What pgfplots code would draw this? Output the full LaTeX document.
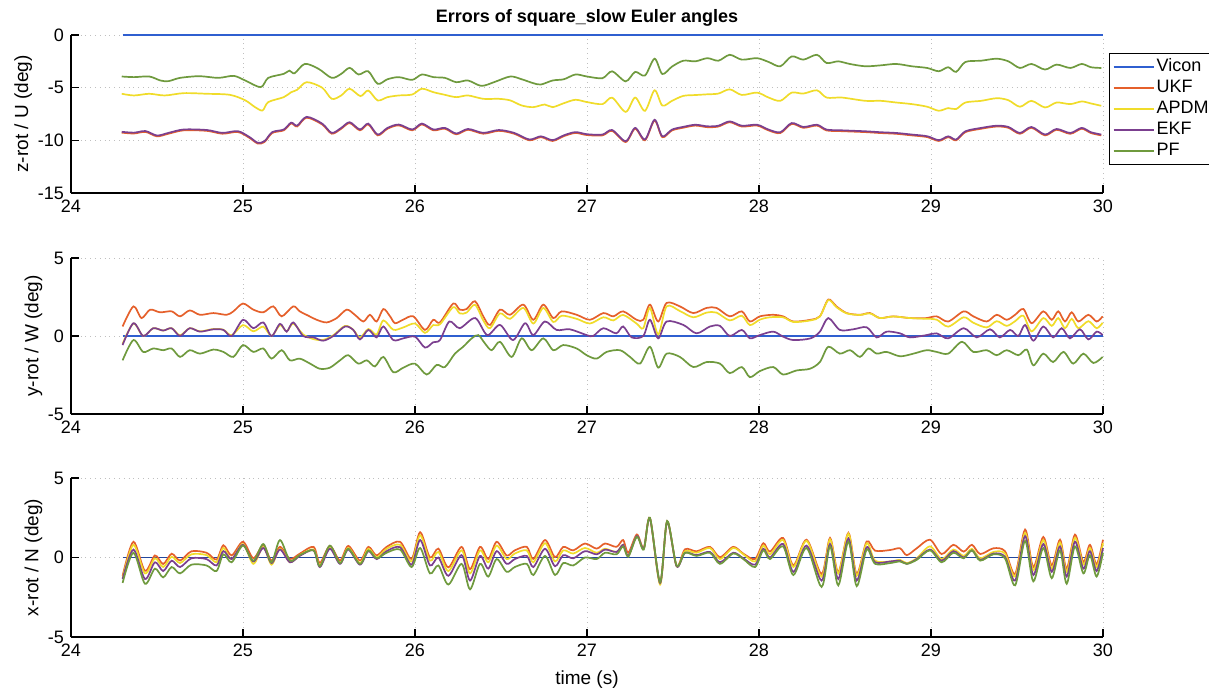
\documentclass[border=0pt]{standalone}
\usepackage{fontspec}
\setmainfont{Liberation Sans}
\usepackage{pgfplots}
\pgfplotsset{compat=1.18}
\definecolor{cVicon}{HTML}{2F5FD0}
\definecolor{cUKF}{HTML}{E5602B}
\definecolor{cAPDM}{HTML}{F0DC2A}
\definecolor{cEKF}{HTML}{7B3F8F}
\definecolor{cPF}{HTML}{6F9A3E}
\pgfplotsset{
 mystyle/.style={
  scale only axis, width=516pt,
  xmin=24, xmax=30, xtick={24,25,26,27,28,29,30}, xticklabels={24,25,26,27,28,29,30},
  axis x line*=bottom, axis y line*=left,
  axis line style={black, line width=0.6pt, -},
  tick style={black, line width=0.6pt},
  tick align=inside, major tick length=4pt,
  grid=major, grid style={dotted, gray!50, line width=0.4pt},
  tick label style={font=\fontsize{9}{10}\selectfont},
  label style={font=\fontsize{9.5}{11}\selectfont},
  ylabel style={yshift=-4pt},
  every axis plot/.append style={smooth, line width=0.85pt, mark=none},
  clip=false,
 }
}
\begin{document}
\begin{tikzpicture}
\useasboundingbox (0pt,0pt) rectangle (604.5pt,-348pt);
% ---------------- top -----------------
\begin{axis}[mystyle, at={(35.5pt,-17.5pt)}, anchor=north west, height=79pt,
  ymin=-15, ymax=0, ytick={-15,-10,-5,0}, yticklabels={-15,-10,-5,0},
  ylabel={z-rot / U (deg)},
  title={\bfseries Errors of square\_slow Euler angles},
  title style={font=\fontsize{9}{11}\selectfont\bfseries, yshift=-5pt},
  legend style={at={(1,1)}, anchor=north west, xshift=3pt, yshift=-9pt, draw=black, line width=0.6pt,
     font=\fontsize{9}{10}\selectfont, inner sep=1.5pt, row sep=0pt,
     nodes={inner sep=1pt, text height=6.6pt, text depth=1.9pt}},
  legend cell align=left,
  legend image code/.code={\draw[#1] (0pt,0pt) -- (20pt,0pt);},
]
\addplot[cVicon, line width=1pt] coordinates {(24.30,0) (30,0)};
\addplot[cUKF] coordinates {(24.295,-9.27) (24.366,-9.35) (24.433,-9.2) (24.50,-9.62) (24.567,-9.37) (24.656,-9.05) (24.79,-9.1) (24.88,-9.37) (24.97,-9.21) (25.036,-9.75) (25.085,-10.3) (25.125,-10.16) (25.17,-9.3) (25.237,-9.05) (25.28,-8.4) (25.315,-8.68) (25.37,-7.85) (25.46,-8.49) (25.516,-9.37) (25.571,-8.9) (25.62,-8.36) (25.68,-9.05) (25.728,-8.49) (25.783,-9.53) (25.84,-8.9) (25.906,-8.58) (25.984,-9.05) (26.04,-8.49) (26.107,-9.05) (26.174,-8.9) (26.24,-9.43) (26.308,-9.0) (26.397,-9.37) (26.487,-9.1) (26.576,-9.37) (26.665,-10.0) (26.732,-9.7) (26.80,-10.06) (26.866,-9.6) (26.933,-9.3) (27.0,-9.5) (27.09,-9.53) (27.146,-9.1) (27.225,-10.16) (27.28,-8.9) (27.337,-10.0) (27.393,-8.13) (27.438,-9.7) (27.494,-9.06) (27.56,-8.8) (27.63,-8.6) (27.70,-8.75) (27.764,-8.69) (27.83,-8.28) (27.90,-8.69) (27.989,-8.6) (28.056,-9.06) (28.124,-9.31) (28.19,-8.44) (28.258,-8.81) (28.337,-8.6) (28.393,-9.06) (28.483,-9.13) (28.618,-9.22) (28.708,-9.31) (28.798,-9.38) (28.888,-9.53) (28.978,-9.69) (29.045,-10.06) (29.10,-9.7) (29.146,-10.0) (29.20,-9.22) (29.292,-8.9) (29.382,-8.69) (29.45,-8.81) (29.517,-9.38) (29.584,-8.81) (29.663,-9.53) (29.73,-9.0) (29.81,-9.38) (29.876,-8.9) (29.93,-9.31) (29.99,-9.53)};
\addplot[cAPDM] coordinates {(24.295,-5.58) (24.366,-5.74) (24.455,-5.58) (24.545,-5.74) (24.656,-5.52) (24.79,-5.58) (24.924,-5.68) (25.013,-6.2) (25.07,-6.85) (25.114,-7.16) (25.147,-6.37) (25.237,-5.9) (25.28,-5.43) (25.315,-5.2) (25.37,-4.48) (25.46,-5.0) (25.516,-6.06) (25.571,-5.74) (25.62,-5.1) (25.683,-5.8) (25.728,-5.27) (25.783,-6.21) (25.84,-5.9) (25.906,-5.74) (25.984,-5.65) (26.04,-5.1) (26.107,-5.43) (26.174,-5.68) (26.24,-5.9) (26.308,-5.74) (26.397,-6.06) (26.487,-6.06) (26.554,-6.21) (26.62,-6.69) (26.687,-6.85) (26.754,-6.6) (26.80,-6.85) (26.866,-6.47) (26.933,-6.15) (27.0,-6.37) (27.09,-6.56) (27.146,-5.95) (27.225,-7.3) (27.28,-5.94) (27.337,-7.2) (27.393,-5.25) (27.438,-6.7) (27.494,-6.25) (27.56,-5.78) (27.63,-5.7) (27.70,-5.63) (27.764,-5.56) (27.83,-5.16) (27.90,-5.69) (27.989,-5.47) (28.056,-5.94) (28.124,-6.25) (28.19,-5.47) (28.258,-5.56) (28.337,-5.25) (28.393,-5.94) (28.483,-5.94) (28.618,-6.25) (28.708,-6.25) (28.798,-6.41) (28.888,-6.56) (28.978,-6.81) (29.045,-7.19) (29.10,-6.94) (29.146,-7.03) (29.20,-6.41) (29.292,-6.25) (29.382,-6.0) (29.45,-6.19) (29.517,-6.81) (29.584,-6.25) (29.663,-6.88) (29.73,-6.41) (29.81,-6.56) (29.876,-6.31) (29.93,-6.5) (29.99,-6.72)};
\addplot[cEKF] coordinates {(24.295,-9.19) (24.366,-9.27) (24.433,-9.12) (24.50,-9.54) (24.567,-9.29) (24.656,-8.97) (24.79,-9.02) (24.88,-9.29) (24.97,-9.13) (25.036,-9.67) (25.085,-10.22) (25.125,-10.08) (25.17,-9.22) (25.237,-8.97) (25.28,-8.32) (25.315,-8.6) (25.37,-7.77) (25.46,-8.41) (25.516,-9.29) (25.571,-8.82) (25.62,-8.28) (25.68,-8.97) (25.728,-8.41) (25.783,-9.45) (25.84,-8.82) (25.906,-8.5) (25.984,-8.97) (26.04,-8.41) (26.107,-8.97) (26.174,-8.82) (26.24,-9.35) (26.308,-8.92) (26.397,-9.29) (26.487,-9.02) (26.576,-9.29) (26.665,-9.92) (26.732,-9.62) (26.80,-9.98) (26.866,-9.52) (26.933,-9.22) (27.0,-9.42) (27.09,-9.45) (27.146,-9.02) (27.225,-10.08) (27.28,-8.82) (27.337,-9.92) (27.393,-8.05) (27.438,-9.62) (27.494,-8.98) (27.56,-8.72) (27.63,-8.52) (27.70,-8.67) (27.764,-8.61) (27.83,-8.2) (27.90,-8.61) (27.989,-8.52) (28.056,-8.98) (28.124,-9.23) (28.19,-8.36) (28.258,-8.73) (28.337,-8.52) (28.393,-8.98) (28.483,-9.05) (28.618,-9.14) (28.708,-9.23) (28.798,-9.3) (28.888,-9.45) (28.978,-9.61) (29.045,-9.98) (29.10,-9.62) (29.146,-9.92) (29.20,-9.14) (29.292,-8.82) (29.382,-8.61) (29.45,-8.73) (29.517,-9.3) (29.584,-8.73) (29.663,-9.45) (29.73,-8.92) (29.81,-9.3) (29.876,-8.82) (29.93,-9.23) (29.99,-9.45)};
\addplot[cPF] coordinates {(24.295,-3.94) (24.366,-4.0) (24.455,-3.94) (24.52,-4.32) (24.567,-4.38) (24.634,-4.07) (24.746,-3.91) (24.857,-4.07) (24.946,-3.88) (25.013,-4.32) (25.103,-4.95) (25.147,-4.07) (25.237,-3.69) (25.27,-3.38) (25.30,-3.63) (25.36,-2.74) (25.44,-3.22) (25.516,-4.07) (25.571,-3.69) (25.62,-3.12) (25.672,-3.75) (25.728,-3.44) (25.783,-4.64) (25.84,-4.2) (25.906,-4.0) (25.984,-4.26) (26.04,-3.75) (26.107,-4.0) (26.174,-4.07) (26.24,-4.48) (26.308,-4.32) (26.386,-4.83) (26.464,-4.45) (26.554,-3.94) (26.62,-4.2) (26.687,-4.57) (26.732,-4.7) (26.80,-4.32) (26.866,-4.2) (26.933,-3.75) (27.0,-3.94) (27.09,-4.1) (27.146,-3.45) (27.225,-4.4) (27.28,-3.5) (27.337,-3.85) (27.393,-2.25) (27.438,-3.7) (27.494,-3.0) (27.56,-2.44) (27.63,-2.5) (27.70,-2.2) (27.764,-2.44) (27.83,-1.88) (27.90,-2.34) (27.989,-2.2) (28.056,-2.56) (28.124,-2.97) (28.19,-2.03) (28.258,-2.34) (28.337,-1.88) (28.393,-2.66) (28.46,-2.5) (28.528,-2.75) (28.618,-2.97) (28.708,-2.88) (28.798,-2.75) (28.888,-2.97) (28.978,-3.13) (29.045,-3.44) (29.10,-3.06) (29.146,-3.5) (29.20,-2.56) (29.292,-2.44) (29.382,-2.25) (29.45,-2.5) (29.517,-3.13) (29.584,-2.75) (29.663,-3.28) (29.73,-2.81) (29.81,-3.13) (29.876,-2.75) (29.93,-3.06) (29.99,-3.13)};
\legend{Vicon,UKF,APDM,EKF,PF}
\end{axis}
% ---------------- middle -----------------
\begin{axis}[mystyle, at={(35.5pt,-129pt)}, anchor=north west, height=78pt,
  ymin=-5, ymax=5, ytick={-5,0,5}, yticklabels={-5,0,5},
  ylabel={y-rot / W (deg)},
]
\addplot[cVicon, line width=1pt] coordinates {(24.30,0) (30,0)};
\addplot[cUKF] coordinates {(24.30,0.61) (24.363,1.9) (24.41,1.15) (24.46,1.69) (24.517,1.52) (24.585,1.58) (24.634,1.26) (24.69,1.64) (24.75,1.36) (24.828,1.47) (24.905,1.36) (24.944,1.58) (25.0,2.08) (25.06,1.69) (25.118,1.52) (25.176,1.9) (25.225,1.26) (25.292,1.9) (25.33,1.58) (25.38,1.3) (25.428,1.04) (25.486,0.87) (25.545,1.15) (25.603,1.69) (25.65,1.36) (25.70,0.93) (25.738,1.36) (25.777,0.93) (25.816,1.73) (25.855,1.26) (25.884,0.82) (25.93,1.04) (25.99,1.26) (26.058,0.39) (26.106,1.04) (26.145,0.87) (26.222,2.08) (26.26,1.69) (26.30,1.73) (26.349,2.23) (26.397,1.26) (26.436,0.71) (26.494,1.69) (26.552,1.36) (26.63,2.01) (26.688,1.04) (26.746,2.01) (26.804,1.15) (26.853,1.58) (26.94,1.36) (27.017,1.04) (27.095,1.47) (27.153,1.26) (27.21,1.58) (27.288,1.04) (27.327,1.04) (27.366,2.01) (27.414,0.93) (27.463,2.12) (27.54,1.9) (27.618,1.47) (27.695,1.8) (27.753,1.8) (27.83,1.26) (27.9,1.58) (27.947,0.93) (28.005,1.26) (28.083,1.36) (28.14,1.26) (28.2,0.93) (28.3,1.04) (28.354,1.26) (28.403,2.34) (28.45,1.9) (28.51,1.47) (28.587,1.36) (28.645,1.47) (28.703,1.15) (28.78,1.26) (28.878,1.15) (28.975,1.15) (29.033,1.26) (29.1,0.93) (29.19,1.58) (29.246,1.26) (29.324,0.93) (29.382,1.36) (29.44,1.04) (29.489,1.36) (29.537,1.73) (29.585,0.82) (29.653,1.58) (29.702,1.04) (29.74,1.58) (29.779,0.93) (29.818,1.52) (29.857,0.93) (29.915,1.36) (29.963,0.93) (29.998,1.26)};
\addplot[cAPDM] coordinates {(24.30,-0.5) (24.363,0.8) (24.42,0.0) (24.478,0.5) (24.536,0.35) (24.585,0.5) (24.634,0.05) (24.69,0.5) (24.75,0.3) (24.828,0.45) (24.886,0.4) (24.934,0.05) (25.0,0.7) (25.06,0.3) (25.118,0.6) (25.166,0.0) (25.215,0.7) (25.254,0.3) (25.292,0.8) (25.35,0.1) (25.41,-0.2) (25.466,-0.25) (25.525,0.05) (25.593,0.65) (25.641,0.4) (25.68,-0.1) (25.729,0.45) (25.777,0.1) (25.816,1.0) (25.874,0.4) (25.932,0.55) (26.0,0.8) (26.058,0.2) (26.106,0.7) (26.145,0.75) (26.222,1.85) (26.26,1.45) (26.30,1.5) (26.349,2.0) (26.397,1.0) (26.436,0.5) (26.494,1.45) (26.552,1.1) (26.63,1.8) (26.688,0.8) (26.746,1.8) (26.804,0.9) (26.853,1.3) (26.94,1.1) (27.017,0.8) (27.095,1.2) (27.153,1.0) (27.21,1.35) (27.288,0.8) (27.327,0.5) (27.366,1.8) (27.414,0.1) (27.463,1.9) (27.54,1.6) (27.618,1.2) (27.695,1.5) (27.753,1.5) (27.83,1.0) (27.9,1.3) (27.947,0.7) (28.005,1.05) (28.064,1.2) (28.14,1.2) (28.2,0.9) (28.3,1.0) (28.354,1.25) (28.403,2.3) (28.45,1.85) (28.51,1.45) (28.587,1.35) (28.645,1.45) (28.703,1.15) (28.78,1.25) (28.878,1.15) (28.975,1.1) (29.033,1.05) (29.1,0.6) (29.19,1.2) (29.246,0.85) (29.324,0.55) (29.382,0.95) (29.44,0.65) (29.489,0.95) (29.537,1.3) (29.585,0.3) (29.653,1.15) (29.702,0.65) (29.74,1.15) (29.779,0.5) (29.818,1.1) (29.857,0.5) (29.915,0.95) (29.963,0.5) (29.998,0.85)};
\addplot[cEKF] coordinates {(24.30,-0.58) (24.363,0.82) (24.42,0.0) (24.478,0.5) (24.536,0.35) (24.585,0.5) (24.634,0.0) (24.69,0.5) (24.75,0.28) (24.828,0.43) (24.886,0.39) (24.934,0.0) (25.0,1.04) (25.06,0.5) (25.118,0.87) (25.166,0.0) (25.215,0.78) (25.254,0.28) (25.292,0.87) (25.35,0.0) (25.41,-0.09) (25.466,-0.3) (25.525,0.0) (25.593,0.61) (25.641,0.39) (25.68,-0.22) (25.729,0.39) (25.777,-0.09) (25.816,0.61) (25.874,-0.26) (25.932,-0.15) (26.0,-0.04) (26.058,-0.74) (26.106,-0.4) (26.145,-0.26) (26.2,0.93) (26.26,0.5) (26.35,1.15) (26.42,0.06) (26.494,0.71) (26.57,-0.26) (26.64,0.82) (26.688,0.06) (26.755,0.93) (26.823,0.39) (26.9,0.43) (26.998,0.06) (27.036,0.0) (27.095,0.5) (27.17,0.17) (27.21,0.61) (27.26,-0.09) (27.327,0.0) (27.366,1.04) (27.414,-0.15) (27.463,0.93) (27.56,0.71) (27.637,0.17) (27.715,0.61) (27.773,0.65) (27.83,0.0) (27.9,0.39) (27.947,-0.15) (28.005,0.06) (28.083,0.28) (28.14,-0.04) (28.2,-0.26) (28.3,-0.15) (28.354,0.28) (28.403,1.15) (28.47,0.39) (28.548,0.43) (28.626,0.56) (28.684,-0.09) (28.742,0.28) (28.82,0.17) (28.878,-0.09) (28.975,0.06) (29.033,0.17) (29.1,-0.15) (29.19,0.5) (29.266,-0.09) (29.343,0.43) (29.4,-0.09) (29.46,0.39) (29.508,0.0) (29.547,0.71) (29.595,-0.3) (29.653,0.61) (29.71,-0.09) (29.76,0.5) (29.808,-0.15) (29.866,0.43) (29.915,-0.22) (29.963,0.28) (29.998,0.06)};
\addplot[cPF] coordinates {(24.30,-1.56) (24.363,-0.26) (24.42,-1.02) (24.478,-0.8) (24.536,-0.91) (24.585,-0.8) (24.634,-1.34) (24.69,-0.91) (24.75,-1.13) (24.828,-0.87) (24.886,-1.02) (24.944,-1.34) (25.0,-0.58) (25.06,-1.02) (25.118,-0.8) (25.166,-1.45) (25.225,-0.91) (25.273,-1.56) (25.33,-1.45) (25.39,-1.77) (25.447,-2.1) (25.505,-2.03) (25.564,-1.56) (25.612,-1.23) (25.67,-1.77) (25.72,-1.56) (25.767,-1.95) (25.816,-1.34) (25.874,-2.32) (25.932,-2.03) (26.0,-1.77) (26.068,-2.47) (26.126,-1.85) (26.174,-1.99) (26.232,-1.13) (26.28,-0.69) (26.33,-0.15) (26.368,0.06) (26.407,-0.48) (26.446,-0.91) (26.494,-0.37) (26.562,-1.34) (26.62,-0.15) (26.678,-0.91) (26.746,-0.15) (26.804,-0.91) (26.862,-0.58) (26.94,-0.8) (26.998,-1.23) (27.056,-1.45) (27.114,-1.02) (27.192,-0.91) (27.25,-1.34) (27.308,-1.77) (27.366,-0.69) (27.414,-2.03) (27.463,-1.13) (27.54,-1.34) (27.618,-1.99) (27.695,-1.67) (27.773,-1.77) (27.83,-2.38) (27.9,-1.99) (27.947,-2.64) (28.005,-2.25) (28.083,-1.99) (28.14,-2.47) (28.218,-2.21) (28.296,-2.1) (28.354,-1.67) (28.403,-0.69) (28.47,-1.13) (28.53,-0.91) (28.587,-1.34) (28.636,-0.8) (28.684,-1.13) (28.742,-1.02) (28.82,-1.3) (28.898,-1.13) (28.975,-0.91) (29.033,-1.02) (29.1,-1.13) (29.18,-0.37) (29.246,-1.02) (29.324,-0.91) (29.382,-1.23) (29.44,-0.91) (29.508,-1.23) (29.557,-0.87) (29.595,-1.88) (29.653,-1.13) (29.71,-1.67) (29.77,-1.02) (29.827,-1.77) (29.886,-1.13) (29.944,-1.73) (29.998,-1.34)};
\end{axis}
% ---------------- bottom -----------------
\begin{axis}[mystyle, at={(35.5pt,-239pt)}, anchor=north west, height=79.5pt,
  ymin=-5, ymax=5, ytick={-5,0,5}, yticklabels={-5,0,5},
  ylabel={x-rot / N (deg)}, xlabel={time (s)},
]
\addplot[cVicon!75!black, line width=0.9pt] coordinates {(24.30,0) (30,0)};
\addplot[cUKF] coordinates {(24.30,-1.16) (24.363,0.99) (24.43,-0.84) (24.488,0.13) (24.536,-0.41) (24.585,0.24) (24.634,-0.19) (24.70,0.39) (24.788,0.30) (24.846,-0.13) (24.886,0.77) (24.934,0.13) (25.00,0.99) (25.06,-0.04) (25.118,0.77) (25.166,-0.19) (25.215,0.67) (25.273,-0.09) (25.33,0.24) (25.41,0.67) (25.447,-0.34) (25.505,0.73) (25.564,-0.19) (25.612,0.73) (25.68,-0.19) (25.729,0.67) (25.777,0.13) (25.835,0.67) (25.913,0.99) (25.98,-0.09) (26.03,1.59) (26.087,0.0) (26.136,0.56) (26.194,-0.62) (26.271,0.67) (26.32,-0.73) (26.378,0.67) (26.426,-0.09) (26.475,0.99) (26.533,0.13) (26.58,0.45) (26.65,0.67) (26.688,-0.09) (26.756,1.10) (26.814,0.02) (26.862,0.67) (26.92,0.45) (26.988,0.88) (27.056,0.56) (27.105,0.88) (27.172,0.67) (27.21,1.10) (27.24,0.30) (27.29,1.45) (27.33,0.60) (27.366,2.49) (27.425,-1.59) (27.466,2.28) (27.521,-0.52) (27.57,0.52) (27.637,0.39) (27.715,0.67) (27.773,0.02) (27.85,0.67) (27.909,0.24) (27.977,-0.09) (28.025,0.90) (28.064,0.37) (28.14,1.23) (28.20,-0.49) (28.277,1.12) (28.364,-1.03) (28.413,1.23) (28.461,-0.92) (28.52,1.55) (28.568,-1.03) (28.626,1.01) (28.675,0.43) (28.762,0.47) (28.82,0.58) (28.859,0.15) (28.917,0.58) (28.994,1.12) (29.062,0.22) (29.13,0.80) (29.19,0.37) (29.238,0.80) (29.286,0.22) (29.363,0.58) (29.43,0.40) (29.489,-1.03) (29.547,1.76) (29.595,-0.60) (29.653,1.29) (29.702,-0.49) (29.75,1.12) (29.789,-0.71) (29.837,1.44) (29.886,-0.28) (29.924,0.80) (29.963,-0.43) (30.00,1.12)};
\addplot[cAPDM] coordinates {(24.30,-1.3) (24.363,0.8) (24.43,-1.0) (24.488,-0.05) (24.536,-0.6) (24.585,0.05) (24.634,-0.35) (24.70,0.2) (24.788,0.15) (24.846,-0.3) (24.886,0.6) (24.934,-0.1) (25.00,0.85) (25.06,-0.4) (25.118,0.65) (25.166,-0.45) (25.215,0.55) (25.273,-0.3) (25.33,0.15) (25.41,0.5) (25.447,-0.5) (25.505,0.6) (25.564,-0.35) (25.612,0.6) (25.68,-0.35) (25.729,0.55) (25.777,0.0) (25.835,0.55) (25.913,0.8) (25.98,-0.25) (26.03,1.4) (26.087,-0.2) (26.136,0.35) (26.194,-0.85) (26.271,0.45) (26.32,-1.0) (26.378,0.45) (26.426,-0.3) (26.475,0.75) (26.533,-0.1) (26.58,0.25) (26.65,0.45) (26.688,-0.3) (26.756,0.9) (26.814,-0.25) (26.862,0.45) (26.92,0.25) (26.988,0.6) (27.056,0.3) (27.105,0.55) (27.172,0.35) (27.21,0.8) (27.24,0.1) (27.29,1.35) (27.33,0.55) (27.366,2.45) (27.425,-1.7) (27.466,2.25) (27.521,-0.55) (27.57,0.4) (27.637,0.3) (27.715,0.6) (27.773,-0.1) (27.85,0.6) (27.909,0.2) (27.977,-0.25) (28.025,0.75) (28.064,0.2) (28.14,1.1) (28.20,-0.6) (28.277,1.05) (28.364,-1.2) (28.413,1.15) (28.461,-1.0) (28.52,1.5) (28.568,-1.15) (28.626,0.9) (28.675,-0.2) (28.762,-0.25) (28.82,-0.15) (28.859,-0.35) (28.917,-0.05) (28.994,0.7) (29.062,-0.1) (29.13,0.5) (29.19,0.1) (29.238,0.55) (29.286,-0.05) (29.363,0.35) (29.43,0.25) (29.489,-1.2) (29.547,1.55) (29.595,-0.8) (29.653,1.1) (29.702,-0.7) (29.75,0.95) (29.789,-0.9) (29.837,1.25) (29.886,-0.45) (29.924,0.6) (29.963,-0.6) (30.00,0.9)};
\addplot[cEKF] coordinates {(24.30,-1.35) (24.363,0.5) (24.43,-1.35) (24.488,-0.3) (24.536,-0.85) (24.585,-0.2) (24.634,-0.6) (24.70,-0.05) (24.788,-0.1) (24.846,-0.5) (24.886,0.4) (24.934,-0.1) (25.00,0.8) (25.06,-0.25) (25.118,0.6) (25.166,-0.35) (25.215,0.5) (25.273,-0.3) (25.33,0.1) (25.41,0.45) (25.447,-0.6) (25.505,0.55) (25.564,-0.4) (25.612,0.5) (25.68,-0.45) (25.729,0.4) (25.777,-0.1) (25.835,0.4) (25.913,0.65) (25.98,-0.45) (26.03,1.1) (26.087,-0.5) (26.136,0.0) (26.194,-1.15) (26.271,0.15) (26.32,-1.45) (26.378,0.1) (26.426,-0.7) (26.475,0.4) (26.533,-0.4) (26.58,-0.1) (26.65,0.1) (26.688,-0.6) (26.756,0.55) (26.814,-0.55) (26.862,0.15) (26.92,-0.05) (26.988,0.4) (27.056,0.2) (27.105,0.5) (27.172,0.35) (27.21,0.8) (27.24,0.1) (27.29,1.35) (27.33,0.55) (27.366,2.45) (27.425,-1.6) (27.466,2.25) (27.521,-0.55) (27.57,0.3) (27.637,0.15) (27.715,0.35) (27.773,-0.3) (27.85,0.3) (27.909,-0.05) (27.977,-0.45) (28.025,0.55) (28.064,0.0) (28.14,0.85) (28.20,-0.9) (28.277,0.75) (28.364,-1.45) (28.413,0.85) (28.461,-1.35) (28.52,1.2) (28.568,-1.45) (28.626,0.65) (28.675,-0.3) (28.762,-0.25) (28.82,-0.2) (28.859,-0.4) (28.917,-0.1) (28.994,0.5) (29.062,-0.2) (29.13,0.4) (29.19,0.0) (29.238,0.45) (29.286,-0.15) (29.363,0.25) (29.43,0.05) (29.489,-1.45) (29.547,1.35) (29.595,-1.1) (29.653,0.85) (29.702,-0.9) (29.75,0.7) (29.789,-1.2) (29.837,1.0) (29.886,-0.7) (29.924,0.4) (29.963,-0.85) (30.00,0.6)};
\addplot[cPF] coordinates {(24.30,-1.6) (24.363,0.3) (24.43,-1.65) (24.488,-0.7) (24.536,-1.25) (24.585,-0.6) (24.634,-1.0) (24.70,-0.45) (24.788,-0.5) (24.846,-0.85) (24.886,0.2) (24.934,-0.3) (25.00,0.75) (25.06,-0.2) (25.118,0.85) (25.166,-0.3) (25.215,1.1) (25.273,-0.2) (25.33,0.15) (25.41,0.45) (25.447,-0.55) (25.505,0.75) (25.564,-0.35) (25.612,0.55) (25.68,-0.4) (25.729,0.45) (25.777,-0.05) (25.835,0.3) (25.913,0.5) (25.98,-0.6) (26.03,0.6) (26.087,-1.0) (26.136,-0.5) (26.194,-1.7) (26.271,-0.4) (26.32,-2.0) (26.378,-0.4) (26.426,-1.2) (26.475,-0.1) (26.533,-0.9) (26.58,-0.6) (26.65,-0.4) (26.688,-1.1) (26.756,0.1) (26.814,-1.1) (26.862,-0.35) (26.92,-0.5) (26.988,0.0) (27.056,-0.1) (27.105,0.3) (27.172,0.2) (27.21,0.7) (27.24,0.05) (27.29,1.3) (27.33,0.5) (27.366,2.5) (27.425,-1.55) (27.466,2.3) (27.521,-0.5) (27.57,0.3) (27.637,0.1) (27.715,0.3) (27.773,-0.4) (27.85,0.25) (27.909,-0.1) (27.977,-0.6) (28.025,0.45) (28.064,-0.1) (28.14,0.7) (28.20,-1.1) (28.277,0.6) (28.364,-1.85) (28.413,0.7) (28.461,-1.75) (28.52,1.0) (28.568,-1.8) (28.626,0.5) (28.675,-0.4) (28.762,-0.35) (28.82,-0.25) (28.859,-0.4) (28.917,-0.15) (28.994,0.45) (29.062,-0.3) (29.13,0.3) (29.19,-0.05) (29.238,0.45) (29.286,-0.2) (29.363,0.2) (29.43,-0.05) (29.489,-1.75) (29.547,1.05) (29.595,-1.5) (29.653,0.6) (29.702,-1.3) (29.75,0.45) (29.789,-1.65) (29.837,0.7) (29.886,-1.0) (29.924,0.15) (29.963,-1.2) (30.00,0.3)};
\end{axis}
\end{tikzpicture}
\end{document}
